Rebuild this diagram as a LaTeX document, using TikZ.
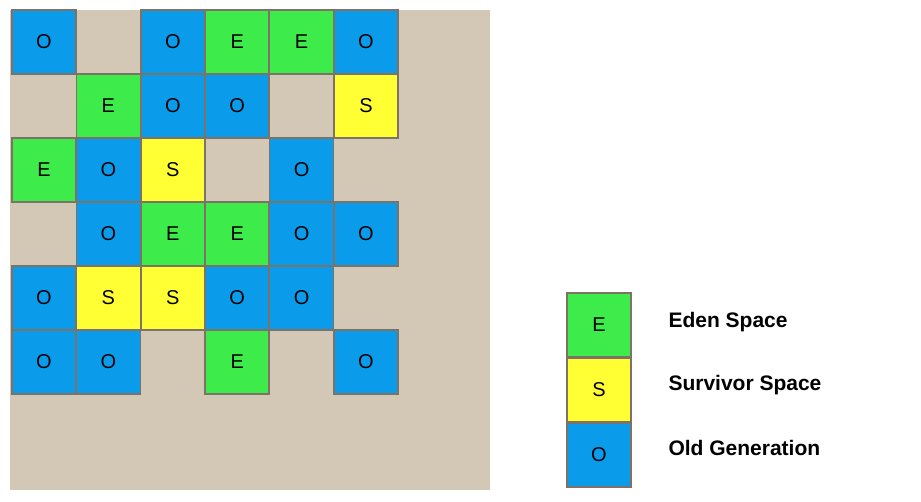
\documentclass[tikz,border=0pt]{standalone}
\usepackage{fontspec}
\setmainfont{Liberation Sans}
\definecolor{bg}{HTML}{D3C7B6}
\definecolor{eg}{HTML}{3DEB4A}
\definecolor{sy}{HTML}{FFFF33}
\definecolor{ob}{HTML}{0A9BEA}
\definecolor{bd}{HTML}{7D7265}
\tikzset{cell/.style={draw=bd,line width=1.5pt,minimum width=64pt,minimum height=64pt,inner sep=0pt,font=\fontsize{20}{22}\selectfont},
E/.style={cell,fill=eg},S/.style={cell,fill=sy},O/.style={cell,fill=ob},
lab/.style={anchor=west,font=\bfseries\fontsize{21}{24}\selectfont}}
\begin{document}
\begin{tikzpicture}[x=1pt,y=-1pt]
\useasboundingbox (0,0) rectangle (921,502);
\fill[bg] (10,10) rectangle (490,490);
\foreach \r/\row in {0/{O,-,O,E,E,O},1/{-,E,O,O,-,S},2/{E,O,S,-,O,-},3/{-,O,E,E,O,O},4/{O,S,S,O,O,-},5/{O,O,-,E,-,O}}{
  \foreach \t [count=\c from 0] in \row {
    \if\t-\else
      \node[\t] (c\r\c) at (44+64.4*\c,42+64*\r) {\t};
    \fi
  }
}
\node[E] (le) at (599,325) {E};
\node[S] (ls) at (599,390) {S};
\node[O] (lo) at (599,455) {O};
\node[lab] (te) at (665,322) {Eden Space};
\node[lab] (ts) at (665,385) {Survivor Space};
\node[lab] (to) at (665,448) {Old Generation};
\end{tikzpicture}
\end{document}
